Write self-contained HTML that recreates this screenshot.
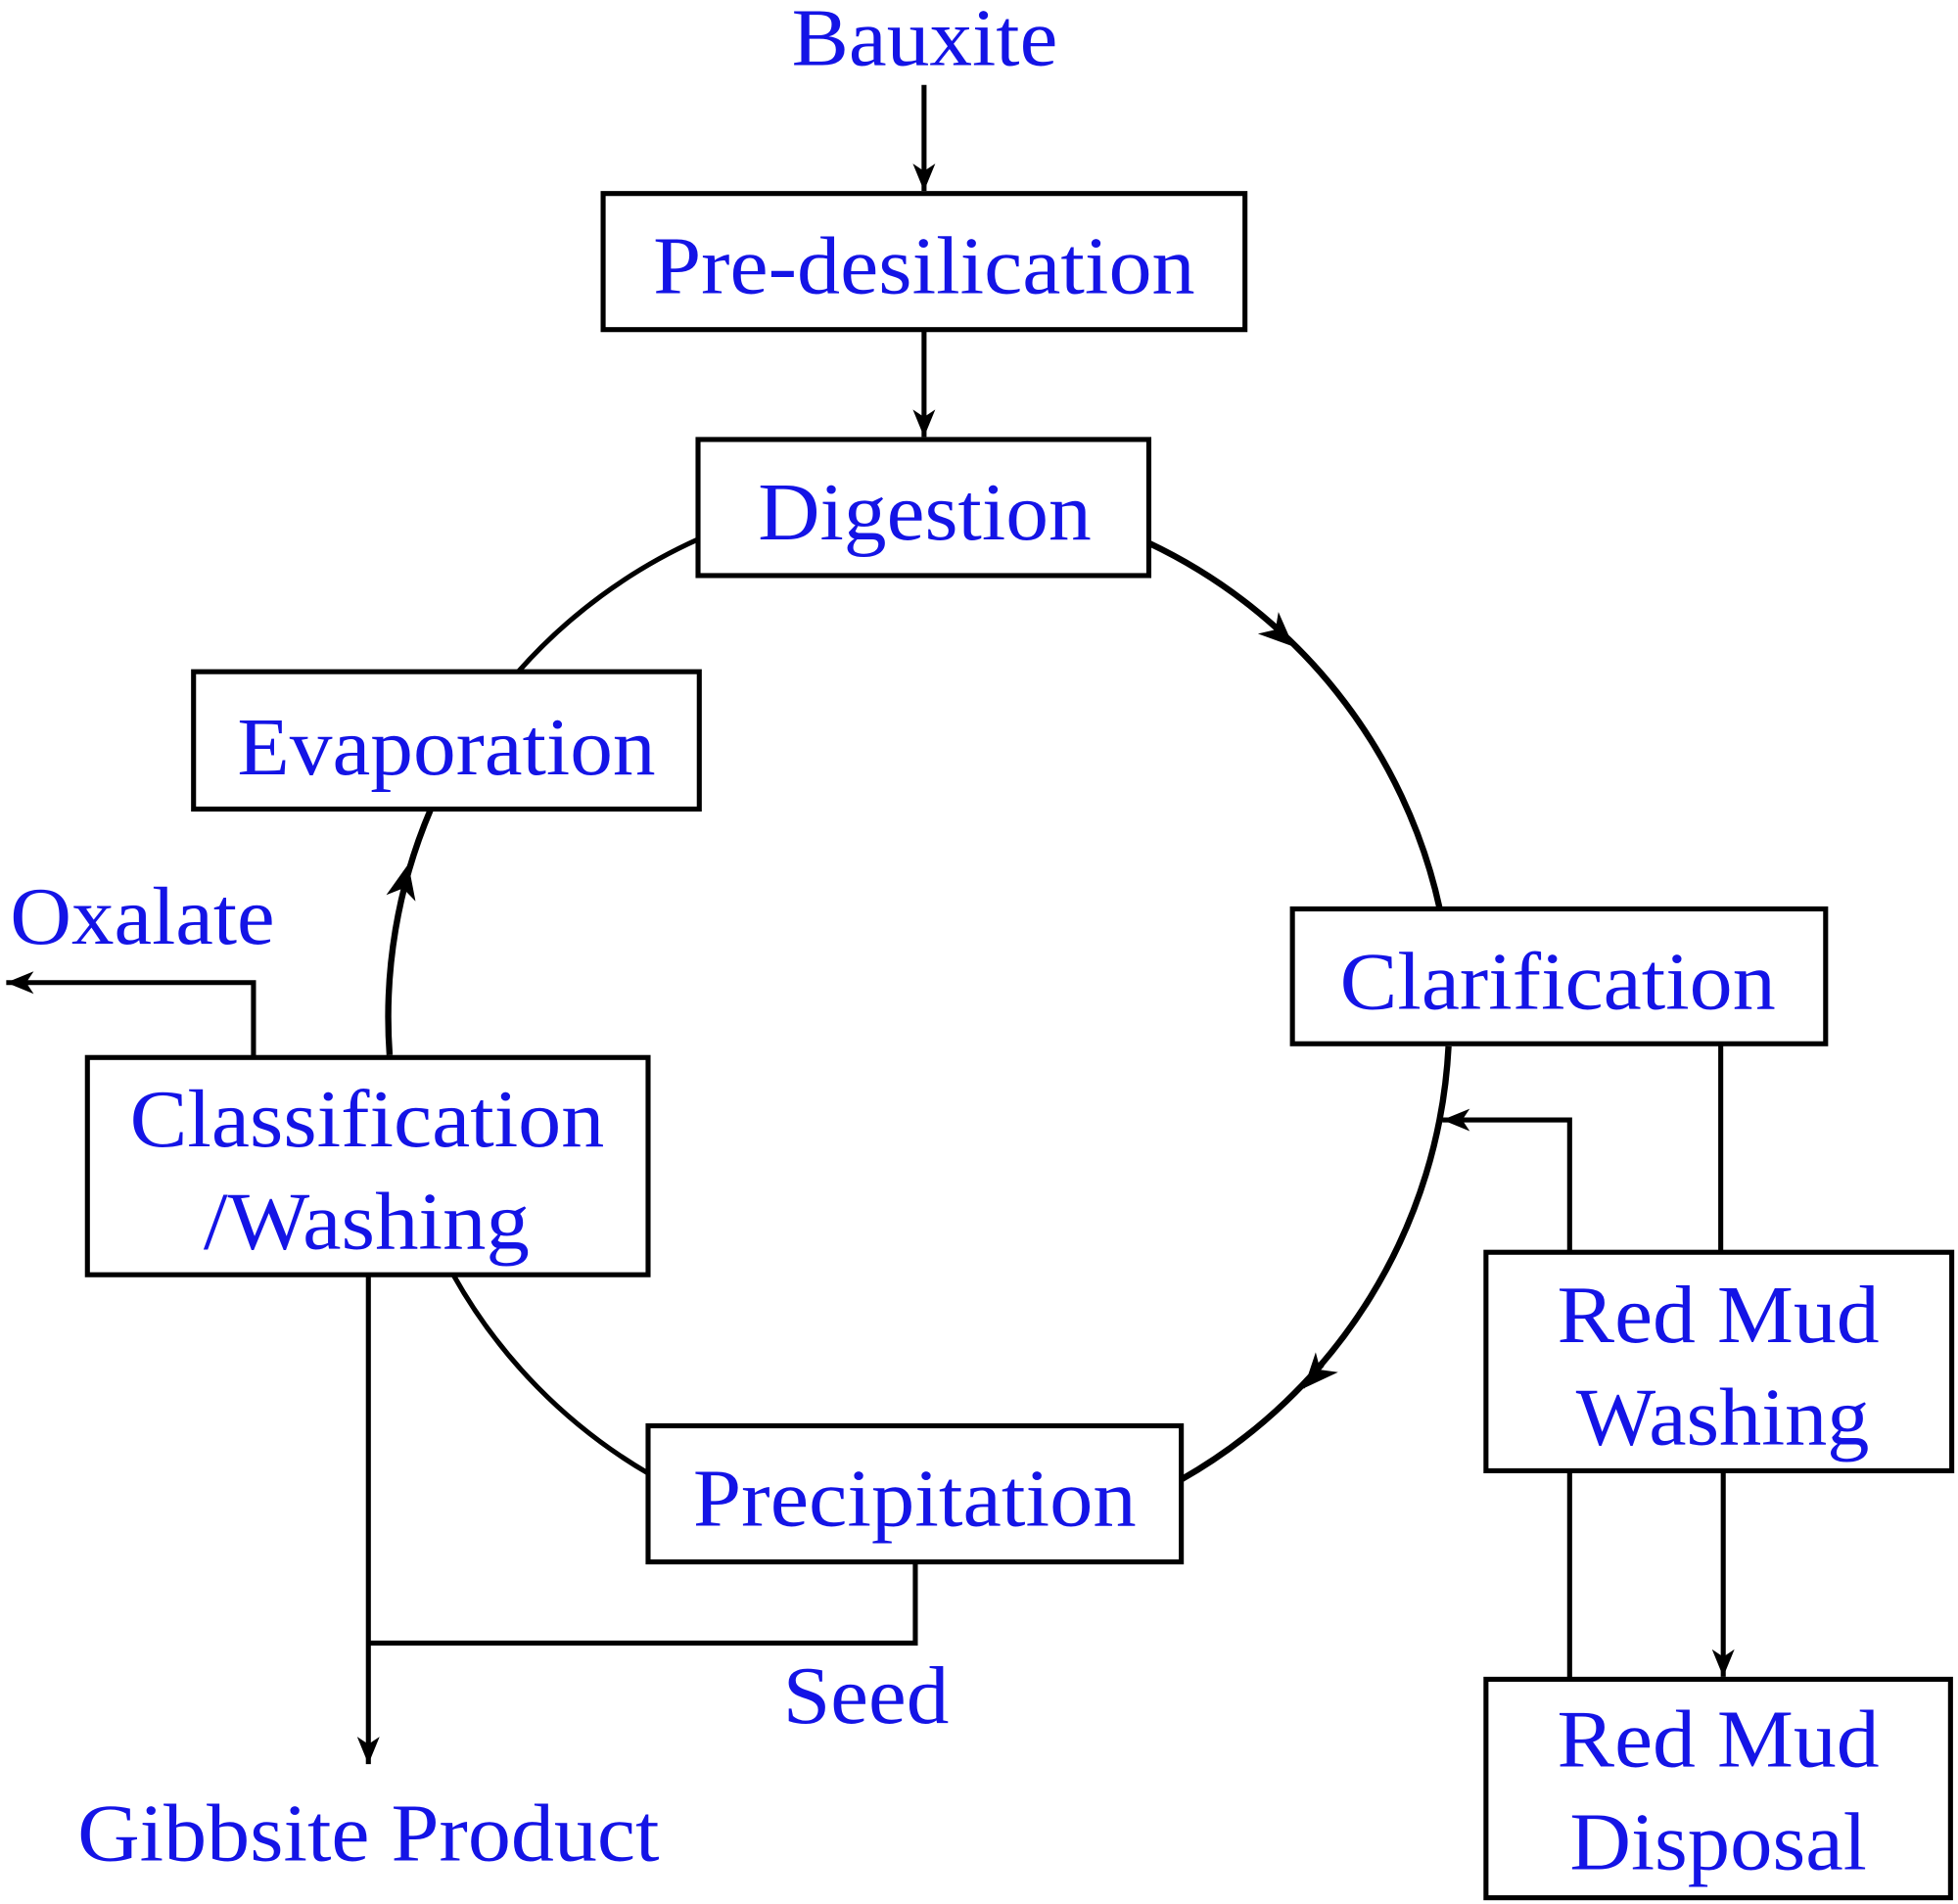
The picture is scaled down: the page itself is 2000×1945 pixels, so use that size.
<!DOCTYPE html>
<html><head><meta charset="utf-8"><style>
html,body{margin:0;padding:0;background:#fff;}
svg{display:block;}
text{font-family:"Liberation Serif",serif;font-size:66px;fill:#1414e6;}
</style></head><body>
<svg width="2000" height="1945" viewBox="0 0 1568 1525" preserveAspectRatio="none" xmlns="http://www.w3.org/2000/svg">
<defs>
<marker id="a" markerWidth="26" markerHeight="22" refX="22" refY="11" orient="auto" markerUnits="userSpaceOnUse">
<path d="M0,2 L22,11 L0,20 L6,11 z" fill="#000"/>
</marker>
<marker id="b" markerWidth="34" markerHeight="28" refX="28" refY="14" orient="auto" markerUnits="userSpaceOnUse">
<path d="M0,2 L28,14 L0,26 L8,14 z" fill="#000"/>
</marker>
</defs>
<g fill="none" stroke="#000">
<g stroke-width="4" fill="#fff">
<rect x="483" y="155" width="514" height="109"/>
<rect x="559" y="352" width="361" height="109"/>
<rect x="155" y="538" width="405" height="110"/>
<rect x="1035" y="728" width="427" height="108"/>
<rect x="70" y="847" width="449" height="174"/>
<rect x="1190" y="1003" width="373" height="175"/>
<rect x="519" y="1142" width="427" height="109"/>
<rect x="1190" y="1345" width="372" height="175"/>
</g>
<path d="M559,432 A424,424 0 0 0 415,538" stroke-width="4"/>
<path d="M920,435 A424,424 0 0 1 1153,728" stroke-width="5"/>
<path d="M1160,838 A424,424 0 0 1 946,1185" stroke-width="5"/>
<path d="M519,1180 A424,424 0 0 1 363,1021" stroke-width="4"/>
<path d="M312,845 A424,424 0 0 1 345,648" stroke-width="5"/>
<line x1="1020" y1="503" x2="1036" y2="518" stroke-width="1" marker-end="url(#b)"/>
<line x1="1060" y1="1094" x2="1044" y2="1112" stroke-width="1" marker-end="url(#b)"/>
<line x1="322" y1="715" x2="327" y2="692" stroke-width="1" marker-end="url(#b)"/>
<g stroke-width="4">
<line x1="740" y1="68" x2="740" y2="153" marker-end="url(#a)"/>
<line x1="740" y1="264" x2="740" y2="350" marker-end="url(#a)"/>
<polyline points="203,847 203,787 5,787" marker-end="url(#a)"/>
<line x1="295" y1="1021" x2="295" y2="1413" marker-end="url(#a)"/>
<polyline points="733,1251 733,1316 295,1316"/>
<line x1="1378" y1="836" x2="1378" y2="1003"/>
<polyline points="1257,1003 1257,897 1155,897" marker-end="url(#a)"/>
<line x1="1257" y1="1178" x2="1257" y2="1345"/>
<line x1="1380" y1="1178" x2="1380" y2="1343" marker-end="url(#a)"/>
</g>
</g>
<text x="634" y="52" textLength="213" lengthAdjust="spacingAndGlyphs">Bauxite</text>
<text x="523" y="235" textLength="434" lengthAdjust="spacingAndGlyphs">Pre-desilication</text>
<text x="607" y="432" textLength="267" lengthAdjust="spacingAndGlyphs">Digestion</text>
<text x="190" y="620" textLength="335" lengthAdjust="spacingAndGlyphs">Evaporation</text>
<text x="1073" y="808" textLength="349" lengthAdjust="spacingAndGlyphs">Clarification</text>
<text x="8" y="756" textLength="212" lengthAdjust="spacingAndGlyphs">Oxalate</text>
<text x="104" y="918" textLength="380" lengthAdjust="spacingAndGlyphs">Classification</text>
<text x="163" y="1000" textLength="261" lengthAdjust="spacingAndGlyphs">/Washing</text>
<text x="1247" y="1075" textLength="258" lengthAdjust="spacingAndGlyphs">Red Mud</text>
<text x="1262" y="1157" textLength="235" lengthAdjust="spacingAndGlyphs">Washing</text>
<text x="555" y="1222" textLength="355" lengthAdjust="spacingAndGlyphs">Precipitation</text>
<text x="627" y="1380" textLength="133" lengthAdjust="spacingAndGlyphs">Seed</text>
<text x="1247" y="1415" textLength="258" lengthAdjust="spacingAndGlyphs">Red Mud</text>
<text x="1257" y="1497" textLength="238" lengthAdjust="spacingAndGlyphs">Disposal</text>
<text x="62" y="1490" textLength="466" lengthAdjust="spacingAndGlyphs">Gibbsite Product</text>
</svg>
</body></html>
